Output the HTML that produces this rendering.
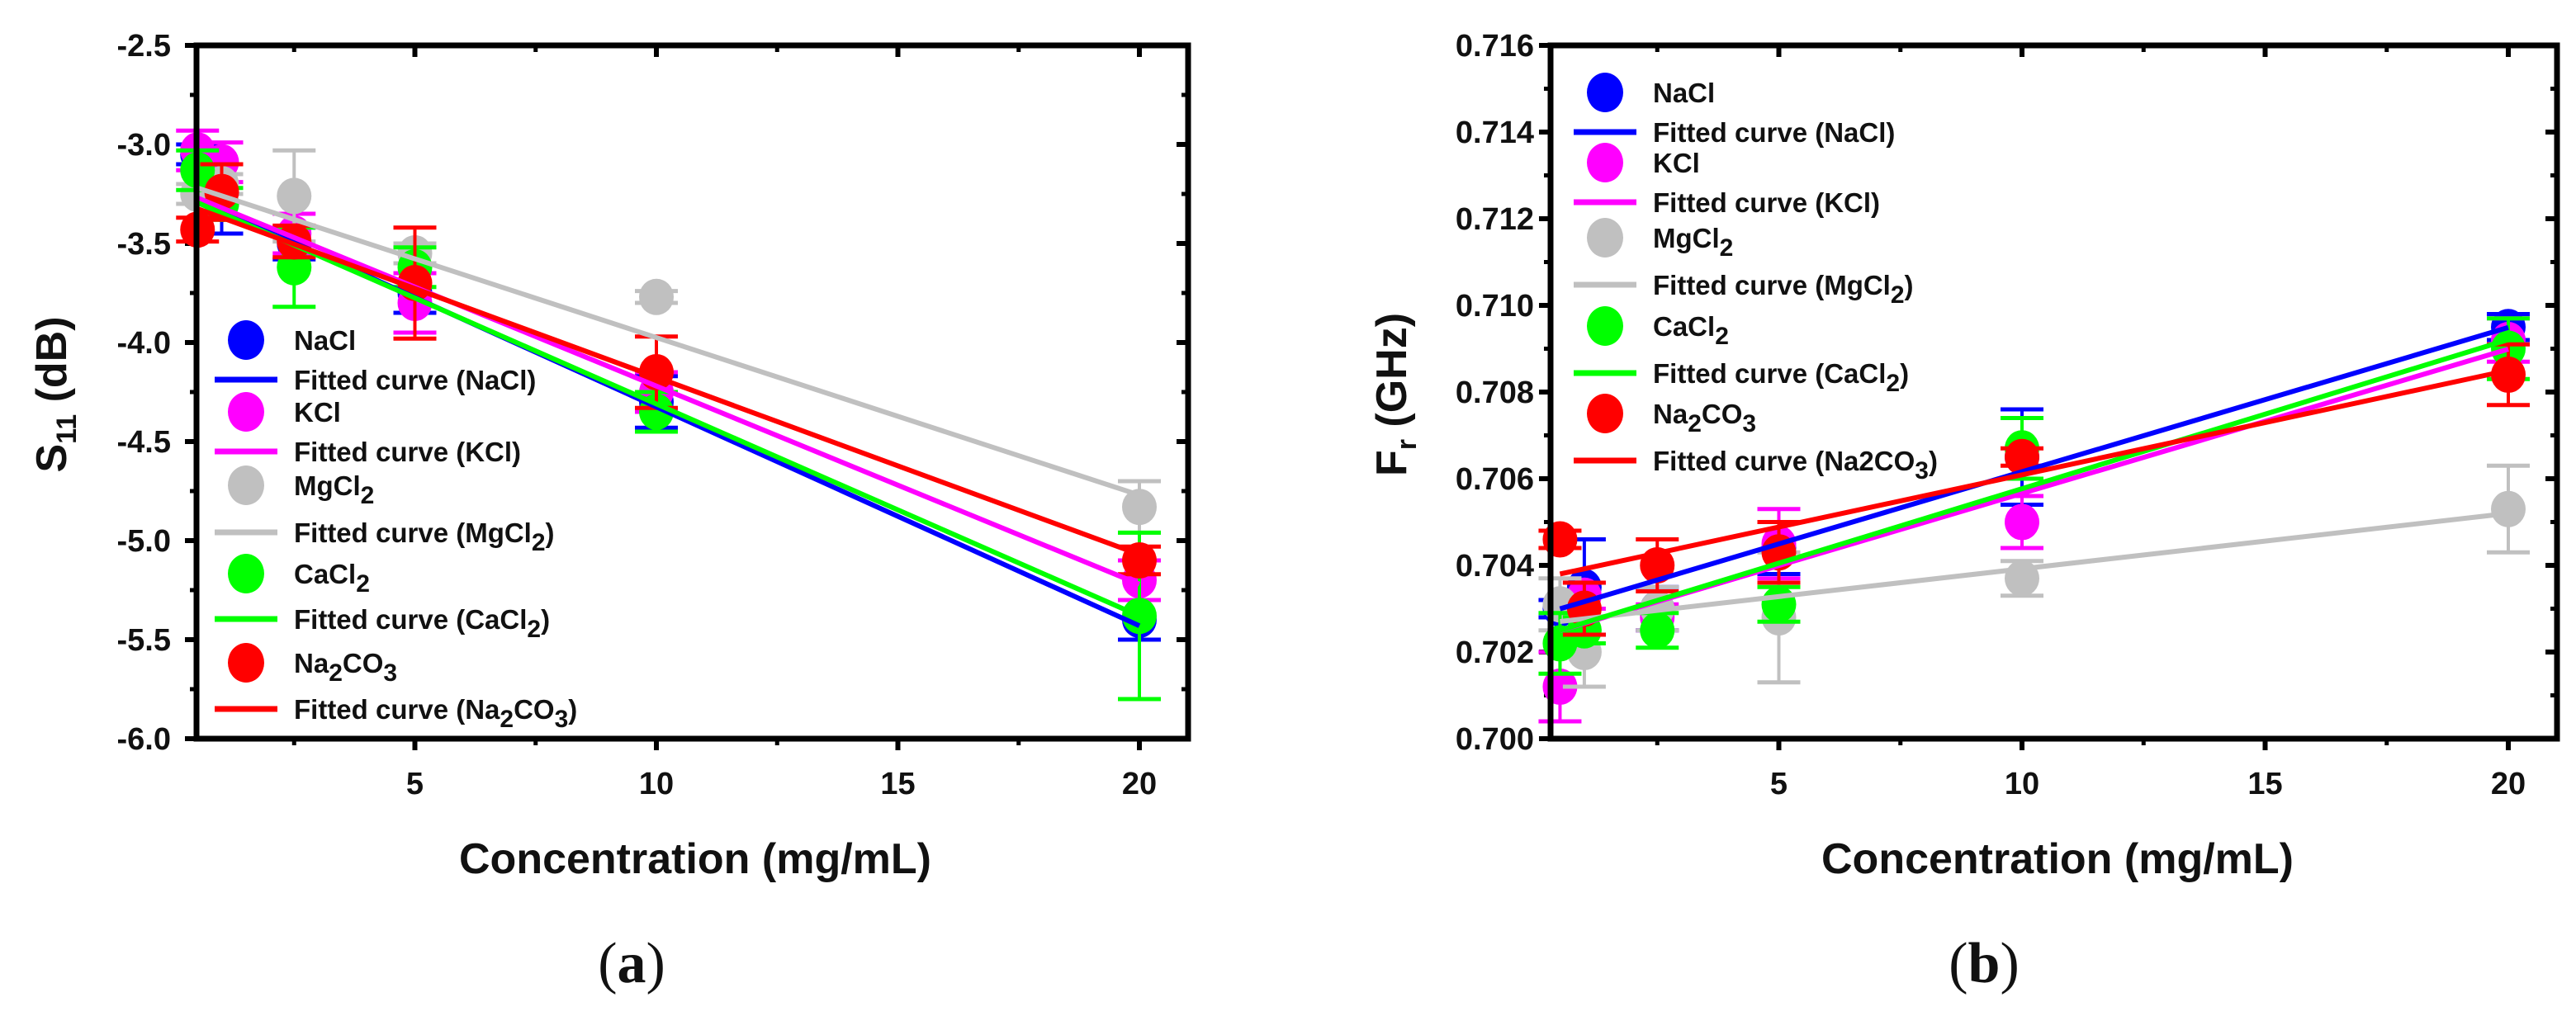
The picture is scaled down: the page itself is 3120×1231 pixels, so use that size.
<!DOCTYPE html>
<html><head><meta charset="utf-8"><style>
html,body{margin:0;padding:0;background:#fff;}
svg{display:block;}
text{font-family:"Liberation Sans",Arial,sans-serif;font-weight:bold;fill:#111;}
</style></head><body>
<svg id="chart" width="3120" height="1231" viewBox="0 0 3120 1231" xmlns="http://www.w3.org/2000/svg"></svg>
<script>
const concentrations=[0.5,1,2.5,5,10,20];
const seriesNames=["NaCl","KCl","MgCl2","CaCl2","Na2CO3"];
const seriesColors=["#0000ff","#ff00ff","#c0c0c0","#00ff00","#ff0000"];
// Panel (a) S11 (dB)
const s11NaCl=[-3.05,-3.30,-3.50,-3.75,-4.30,-5.40];
const s11KCl=[-3.03,-3.09,-3.45,-3.80,-4.25,-5.20];
const s11MgCl2=[-3.25,-3.20,-3.26,-3.55,-3.77,-4.83];
const s11CaCl2=[-3.13,-3.30,-3.62,-3.62,-4.35,-5.38];
const s11Na2CO3=[-3.43,-3.24,-3.49,-3.70,-4.15,-5.10];
const s11ErrNaCl=[0.05,0.15,0.08,0.10,0.13,0.10];
const s11ErrKCl=[0.10,0.10,0.10,0.15,0.10,0.10];
const s11ErrMgCl2=[0.05,0.05,0.23,0.05,0.03,0.13];
const s11ErrCaCl2=[0.10,0.08,0.20,0.10,0.10,0.42];
const s11ErrNa2CO3=[0.06,0.14,0.08,0.28,0.18,0.07];
const s11FitIntercept=[-3.22,-3.22,-3.18,-3.24,-3.28];
const s11FitSlope=[-0.1105,-0.100,-0.0795,-0.107,-0.0895];
const s11Ticks=[-2.5,-3.0,-3.5,-4.0,-4.5,-5.0,-5.5,-6.0];
const s11TickLabels=["-2.5","-3.0","-3.5","-4.0","-4.5","-5.0","-5.5","-6.0"];
// Panel (b) Fr (GHz)
const frNaCl=[0.7030,0.7035,0.7030,0.7044,0.7065,0.7095];
const frKCl=[0.7012,0.7033,0.7028,0.7045,0.7050,0.7092];
const frMgCl2=[0.7031,0.7020,0.7030,0.7028,0.7037,0.7053];
const frCaCl2=[0.7022,0.7025,0.7025,0.7031,0.7067,0.7090];
const frNa2CO3=[0.7046,0.7030,0.7040,0.7043,0.7065,0.7084];
const frErrNaCl=[0.0002,0.0011,0.0005,0.0006,0.0011,0.0003];
const frErrKCl=[0.0008,0.0003,0.0003,0.0008,0.0006,0.0005];
const frErrMgCl2=[0.0006,0.0008,0.0005,0.0015,0.0004,0.0010];
const frErrCaCl2=[0.0007,0.0003,0.0004,0.0004,0.0007,0.0007];
const frErrNa2CO3=[0.0002,0.0006,0.0006,0.0007,0.0002,0.0007];
const frFitIntercept=[0.70283,0.70233,0.70264,0.70233,0.70368];
const frFitSlope=[0.000333,0.000333,0.000128,0.000344,0.000241];
const frTicks=[0.700,0.702,0.704,0.706,0.708,0.710,0.712,0.714,0.716];
const frTickLabels=["0.700","0.702","0.704","0.706","0.708","0.710","0.712","0.714","0.716"];
const xTicks=[5,10,15,20];
const xTickLabels=["5","10","15","20"];

const NS="http://www.w3.org/2000/svg";
const svg=document.getElementById('chart');
function mk(tag,attrs,parent){const e=document.createElementNS(NS,tag);for(const k in attrs)e.setAttribute(k,attrs[k]);(parent||svg).appendChild(e);return e;}

function panel(o){
  const g=mk('g',{});
  
  
  const L=o.left,R=o.right,T=55,B=895;
  const xs=v=>o.x0+v*o.pxu;
  const ys=v=>B-(v-o.ymin)/(o.ymax-o.ymin)*(B-T);
  const minorStep=(o.ticks[1]-o.ticks[0])/2;
  for(let i=0;i<o.ticks.length;i++){
    const y=ys(o.ticks[i]);
    const t=mk('line',{x1:L-14,x2:L,y1:y,y2:y,stroke:'#000','stroke-width':6},g);
    
    
    mk('line',{x1:R-14,x2:R,y1:y,y2:y,stroke:'#000','stroke-width':6},g);
    const lb=mk('text',{x:o.labelX,y:y+13,'text-anchor':'end','font-size':38},g);
    lb.textContent=o.tickLabels[i];
    
    
    if(i<o.ticks.length-1){const ym=ys(o.ticks[i]+minorStep);
      mk('line',{x1:L-8,x2:L,y1:ym,y2:ym,stroke:'#000','stroke-width':5},g);
      mk('line',{x1:R-8,x2:R,y1:ym,y2:ym,stroke:'#000','stroke-width':5},g);}
  }
  for(let v=2.5;v<=20;v+=2.5){
    const x=xs(v);const major=(v%5===0);
    mk('line',{x1:x,x2:x,y1:B,y2:B+(major?14:8),stroke:'#000','stroke-width':major?6:5},g);
    mk('line',{x1:x,x2:x,y1:T,y2:T+(major?14:8),stroke:'#000','stroke-width':major?6:5},g);
  }
  xTicks.forEach((v,i)=>{const lb=mk('text',{x:xs(v),y:962,'text-anchor':'middle','font-size':38},g);lb.textContent=xTickLabels[i];
    
    });
  for(let s=0;s<5;s++){
    const vals=o.data[s],errs=o.errs[s],c=seriesColors[s];
    const sg=mk('g',{},g);
    
    
    concentrations.forEach((xv,i)=>{
      const x=xs(xv),y=ys(vals[i]),y1=ys(vals[i]+errs[i]),y2=ys(vals[i]-errs[i]);
      mk('line',{x1:x,x2:x,y1:y1,y2:y2,stroke:c,'stroke-width':4},sg);
      mk('line',{x1:x-26,x2:x+26,y1:y1,y2:y1,stroke:c,'stroke-width':5},sg);
      mk('line',{x1:x-26,x2:x+26,y1:y2,y2:y2,stroke:c,'stroke-width':5},sg);
      const p=mk('ellipse',{cx:x,cy:y,rx:21,ry:22,fill:c},sg);
      
      
    });
  }
  for(let s=0;s<5;s++){
    const a=o.fi[s],b=o.fs[s];
    const ln=mk('line',{x1:xs(0.5),y1:ys(a+b*0.5),x2:xs(20),y2:ys(a+b*20),stroke:seriesColors[s],'stroke-width':6},g);
    
    
  }
  const fr=mk('rect',{x:L,y:T,width:R-L,height:B-T,fill:'none',stroke:'#000','stroke-width':7},g);
  
  
  const lg=mk('g',{},g);
  
  
  const labels=[["NaCl",""],["Fitted curve (NaCl)",""],["KCl",""],["Fitted curve (KCl)",""],["MgCl","2"],["Fitted curve (MgCl","2)"],["CaCl","2"],["Fitted curve (CaCl","2)"],["Na","2CO3"],["",""]];
  for(let r=0;r<10;r++){
    const y=o.legY[r],s=Math.floor(r/2),c=seriesColors[s];
    if(r%2===0)mk('ellipse',{cx:o.legX,cy:y,rx:22,ry:24,fill:c},lg);
    else mk('line',{x1:o.legX-38,x2:o.legX+38,y1:y,y2:y,stroke:c,'stroke-width':7},lg);
    const t=mk('text',{x:o.legX+58,y:y+12,'font-size':33},lg);
    
    
    const lab=labels[r];
    if(r===8){t.innerHTML='Na<tspan dy="10" font-size="30">2</tspan><tspan dy="-10">CO</tspan><tspan dy="10" font-size="30">3</tspan>';}
    else if(r===9){t.innerHTML=o.lastFitHtml;}
    else if(lab[1]==="2"){t.innerHTML=lab[0]+'<tspan dy="10" font-size="30">2</tspan>';}
    else if(lab[1]==="2)"){t.innerHTML=lab[0]+'<tspan dy="10" font-size="30">2</tspan><tspan dy="-10">)</tspan>';}
    else t.textContent=lab[0];
  }
  const xl=mk('text',{x:o.xlabX,y:1058,'text-anchor':'middle','font-size':52},g);
  xl.textContent='Concentration (mg/mL)';
  
  
  const yl=mk('text',{x:0,y:0,'text-anchor':'middle','font-size':52,transform:'translate('+o.ylabX+',478) rotate(-90)'},g);
  yl.innerHTML=o.ylabHtml;
  
  
  const cap=mk('text',{x:o.capX,y:1190,'text-anchor':'middle','font-size':70,style:'font-family:"Liberation Serif",serif;font-weight:normal'},g);
  cap.innerHTML='(<tspan font-weight="bold">'+o.cap+'</tspan>)';
  
  
}

panel({id:'s11',left:238,right:1439,x0:210,pxu:58.5,ymin:-6.0,ymax:-2.5,ticks:s11Ticks,tickLabels:s11TickLabels,labelX:207,
  data:[s11NaCl,s11KCl,s11MgCl2,s11CaCl2,s11Na2CO3],errs:[s11ErrNaCl,s11ErrKCl,s11ErrMgCl2,s11ErrCaCl2,s11ErrNa2CO3],
  fi:s11FitIntercept,fs:s11FitSlope,legX:298,legY:[412,460,499,547,588,645,695,750,803,859],
  lastFitHtml:'Fitted curve (Na<tspan dy="10" font-size="30">2</tspan><tspan dy="-10">CO</tspan><tspan dy="10" font-size="30">3</tspan><tspan dy="-10">)</tspan>',
  xlabX:842,ylabX:80,ylabHtml:'S<tspan dy="12" font-size="34">11</tspan><tspan dy="-12"> (dB)</tspan>',capX:765,cap:'a'});
panel({id:'fr',left:1878,right:3097,x0:1860,pxu:58.9,ymin:0.700,ymax:0.716,ticks:frTicks,tickLabels:frTickLabels,labelX:1858,
  data:[frNaCl,frKCl,frMgCl2,frCaCl2,frNa2CO3],errs:[frErrNaCl,frErrKCl,frErrMgCl2,frErrCaCl2,frErrNa2CO3],
  fi:frFitIntercept,fs:frFitSlope,legX:1944,legY:[112,160,197,245,288,345,395,452,501,558],
  lastFitHtml:'Fitted curve (Na2CO<tspan dy="10" font-size="30">3</tspan><tspan dy="-10">)</tspan>',
  xlabX:2492,ylabX:1703,ylabHtml:'F<tspan dy="12" font-size="34">r</tspan><tspan dy="-12"> (GHz)</tspan>',capX:2403,cap:'b'});
</script>
</body></html>
